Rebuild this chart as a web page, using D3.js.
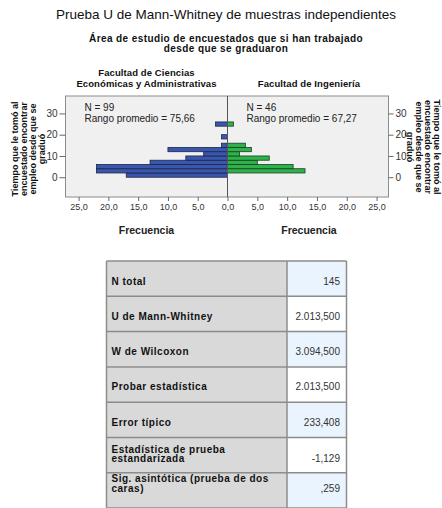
<!DOCTYPE html>
<html><head><meta charset="utf-8">
<script src="https://cdn.jsdelivr.net/npm/d3@7"></script>
<style>body{margin:0;background:#fff}svg{display:block;font-family:"Liberation Sans",Arial,sans-serif}</style>
</head><body>
<script>
const binStarts = [0,2,4,6,8,10,12,14,16,18,20,22,24];
const binWidth = 2;
const econCounts = [17,22,22,13,7,4,10,1,0,1,0,0,2];
const ingCounts = [0,13,11,5,7,2,4,3,0,0,0,0,1];
const freqTicks = [0,5,10,15,20,25];
const yTicks = [0,10,20,30];
const groupNames = [["Facultad de Ciencias","Económicas y Administrativas"],["Facultad de Ingeniería"]];
const groupN = [99,46];
const groupMeanRank = ["75,66","67,27"];
const yTitle = ["Tiempo que le tomó al","encuestado encontrar","empleo desde que se","graduó"];
const chartTitle = "Prueba U de Mann-Whitney de muestras independientes";
const chartSubtitle = ["Área de estudio de encuestados que si han trabajado","desde que se graduaron"];
const tableLabels = ["N total","U de Mann-Whitney","W de Wilcoxon","Probar estadística","Error típico","Estadística de prueba\nestandarizada","Sig. asintótica (prueba de dos\ncaras)"];
const tableValues = ["145","2.013,500","3.094,500","2.013,500","233,408","-1,129",",259"];

const W = 442, H = 508;
const svg = d3.select("body").append("svg").attr("width", W).attr("height", H);

// Titles
svg.append("text").attr("x", 226).attr("y", 19).attr("text-anchor","middle")
  .attr("font-size", 13.5).attr("fill","#111").text(chartTitle);
chartSubtitle.forEach((t,i)=>svg.append("text").attr("x",226).attr("y",41.5+i*10)
  .attr("text-anchor","middle").attr("font-size",10).attr("letter-spacing",0.4).attr("font-weight","bold").attr("fill","#111").text(t));

// scales
const plotTop = 96, plotBottom = 197, cx = 227.5, pLeft = 65.5, pRight = 388.5;
const y = d3.scaleLinear().domain([-9.3, 38.2]).range([plotBottom, plotTop]);
const xL = d3.scaleLinear().domain([0, 27.2]).range([cx, pLeft]);
const xR = d3.scaleLinear().domain([0, 27.0]).range([cx, pRight]);

svg.append("rect").attr("x",pLeft).attr("y",plotTop).attr("width",pRight-pLeft).attr("height",plotBottom-plotTop)
  .attr("fill","#f0f0f0").attr("stroke","#8c8c8c").attr("stroke-width",1);

const bins = binStarts.map((b,i)=>({b, l: econCounts[i], r: ingCounts[i]}));
svg.append("g").selectAll("rect").data(bins.filter(d=>d.l>0)).join("rect")
  .attr("x",d=>xL(d.l)).attr("width",d=>xL(0)-xL(d.l))
  .attr("y",d=>y(d.b+binWidth)).attr("height",d=>y(d.b)-y(d.b+binWidth))
  .attr("fill","#3a57b0").attr("stroke","#1c2545").attr("stroke-width",0.8);
svg.append("g").selectAll("rect").data(bins.filter(d=>d.r>0)).join("rect")
  .attr("x",xR(0)).attr("width",d=>xR(d.r)-xR(0))
  .attr("y",d=>y(d.b+binWidth)).attr("height",d=>y(d.b)-y(d.b+binWidth))
  .attr("fill","#2db34a").attr("stroke","#183f20").attr("stroke-width",0.8);

svg.append("line").attr("x1",cx).attr("x2",cx).attr("y1",plotTop).attr("y2",plotBottom)
  .attr("stroke","#555").attr("stroke-width",1);

const fmt = d => d.toFixed(1).replace(".",",");
function styleAxis(g, fs){
  g.select(".domain").remove();
  g.selectAll(".tick line").attr("stroke","#666");
  g.selectAll(".tick text").attr("font-size",fs).attr("fill","#333").attr("font-family",'"Liberation Sans",Arial,sans-serif');
}
svg.append("g").attr("transform",`translate(0,${plotBottom})`)
  .call(d3.axisBottom(xL).tickValues(freqTicks).tickFormat(fmt).tickSize(4).tickPadding(3)).call(g=>styleAxis(g,9));
svg.append("g").attr("transform",`translate(0,${plotBottom})`)
  .call(d3.axisBottom(xR).tickValues(freqTicks.slice(1)).tickFormat(fmt).tickSize(4).tickPadding(3)).call(g=>styleAxis(g,9));
svg.append("g").attr("transform",`translate(${pLeft},0)`)
  .call(d3.axisLeft(y).tickValues(yTicks).tickSize(6).tickPadding(2)).call(g=>styleAxis(g,10));
svg.append("g").attr("transform",`translate(${pRight},0)`)
  .call(d3.axisRight(y).tickValues(yTicks).tickSize(5).tickPadding(2)).call(g=>styleAxis(g,10));

// panel headers & annotations
const panelCenters = [(pLeft+cx)/2, (cx+pRight)/2 + 1];
groupNames.forEach((lines,i)=>{
  lines.forEach((t,j)=>svg.append("text").attr("x",panelCenters[i]).attr("y",87-(lines.length-1-j)*11)
    .attr("text-anchor","middle").attr("font-size",9.5).attr("letter-spacing",0.1).attr("font-weight","bold").attr("fill","#111").text(t));
  svg.append("text").attr("x",panelCenters[i]).attr("y",234).attr("text-anchor","middle")
    .attr("font-size",10.5).attr("font-weight","bold").attr("fill","#222").text("Frecuencia");
});
const annX = [pLeft+19, cx+19];
groupN.forEach((n,i)=>{
  svg.append("text").attr("x",annX[i]).attr("y",110.5).attr("font-size",10).attr("fill","#222").text(`N = ${n}`);
  svg.append("text").attr("x",annX[i]).attr("y",121.5).attr("font-size",10).attr("fill","#222").text(`Rango promedio = ${groupMeanRank[i]}`);
});

// y titles
const yl = svg.append("text").attr("transform","translate(18,149) rotate(-90)").attr("text-anchor","middle")
  .attr("font-size",9).attr("font-weight","bold").attr("fill","#111");
yTitle.forEach((t,i)=>yl.append("tspan").attr("x",0).attr("y",i*8.9).text(t));
const yr = svg.append("text").attr("transform","translate(433.5,147) rotate(90)").attr("text-anchor","middle")
  .attr("font-size",9).attr("font-weight","bold").attr("fill","#111");
yTitle.forEach((t,i)=>yr.append("tspan").attr("x",0).attr("y",i*8.9).text(t));

// table
const tx0 = 106.5, tx1 = 287, tx2 = 346.5, tTop = 261, rowH = 35.3;
const tg = svg.append("g");
tableLabels.forEach((lab,i)=>{
  const top = tTop + i*rowH;
  tg.append("rect").attr("x",tx0).attr("y",top).attr("width",tx1-tx0).attr("height",rowH).attr("fill","#d9d9d9");
  tg.append("rect").attr("x",tx1).attr("y",top).attr("width",tx2-tx1).attr("height",rowH).attr("fill", i%2===0 ? "#eaf4fe" : "#ffffff");
  const lines = lab.split("\n");
  const last = i === tableLabels.length-1;
  const offs = lines.length === 1 ? [23.5] : (last ? [9.5, 19] : [15, 24.5]);
  lines.forEach((t,j)=>tg.append("text").attr("x",tx0+5).attr("y",top+offs[j]).attr("font-size",10)
    .attr("letter-spacing",0.5).attr("font-weight","bold").attr("fill","#111").text(t));
  tg.append("text").attr("x",tx2-6.5).attr("y",top+offs[offs.length-1]).attr("text-anchor","end")
    .attr("font-size",10).attr("fill","#333").text(tableValues[i]);
});
// grid lines
const nRows = tableLabels.length;
d3.range(nRows+1).forEach(i=>{
  tg.append("line").attr("x1",tx0).attr("x2",tx2).attr("y1",tTop+i*rowH).attr("y2",tTop+i*rowH)
    .attr("stroke","#8c8c8c").attr("stroke-width",1.5);
});
[tx0,tx1,tx2].forEach(x=>tg.append("line").attr("x1",x).attr("x2",x).attr("y1",tTop).attr("y2",tTop+nRows*rowH)
  .attr("stroke","#8c8c8c").attr("stroke-width",1.5));
</script>
</body></html>
